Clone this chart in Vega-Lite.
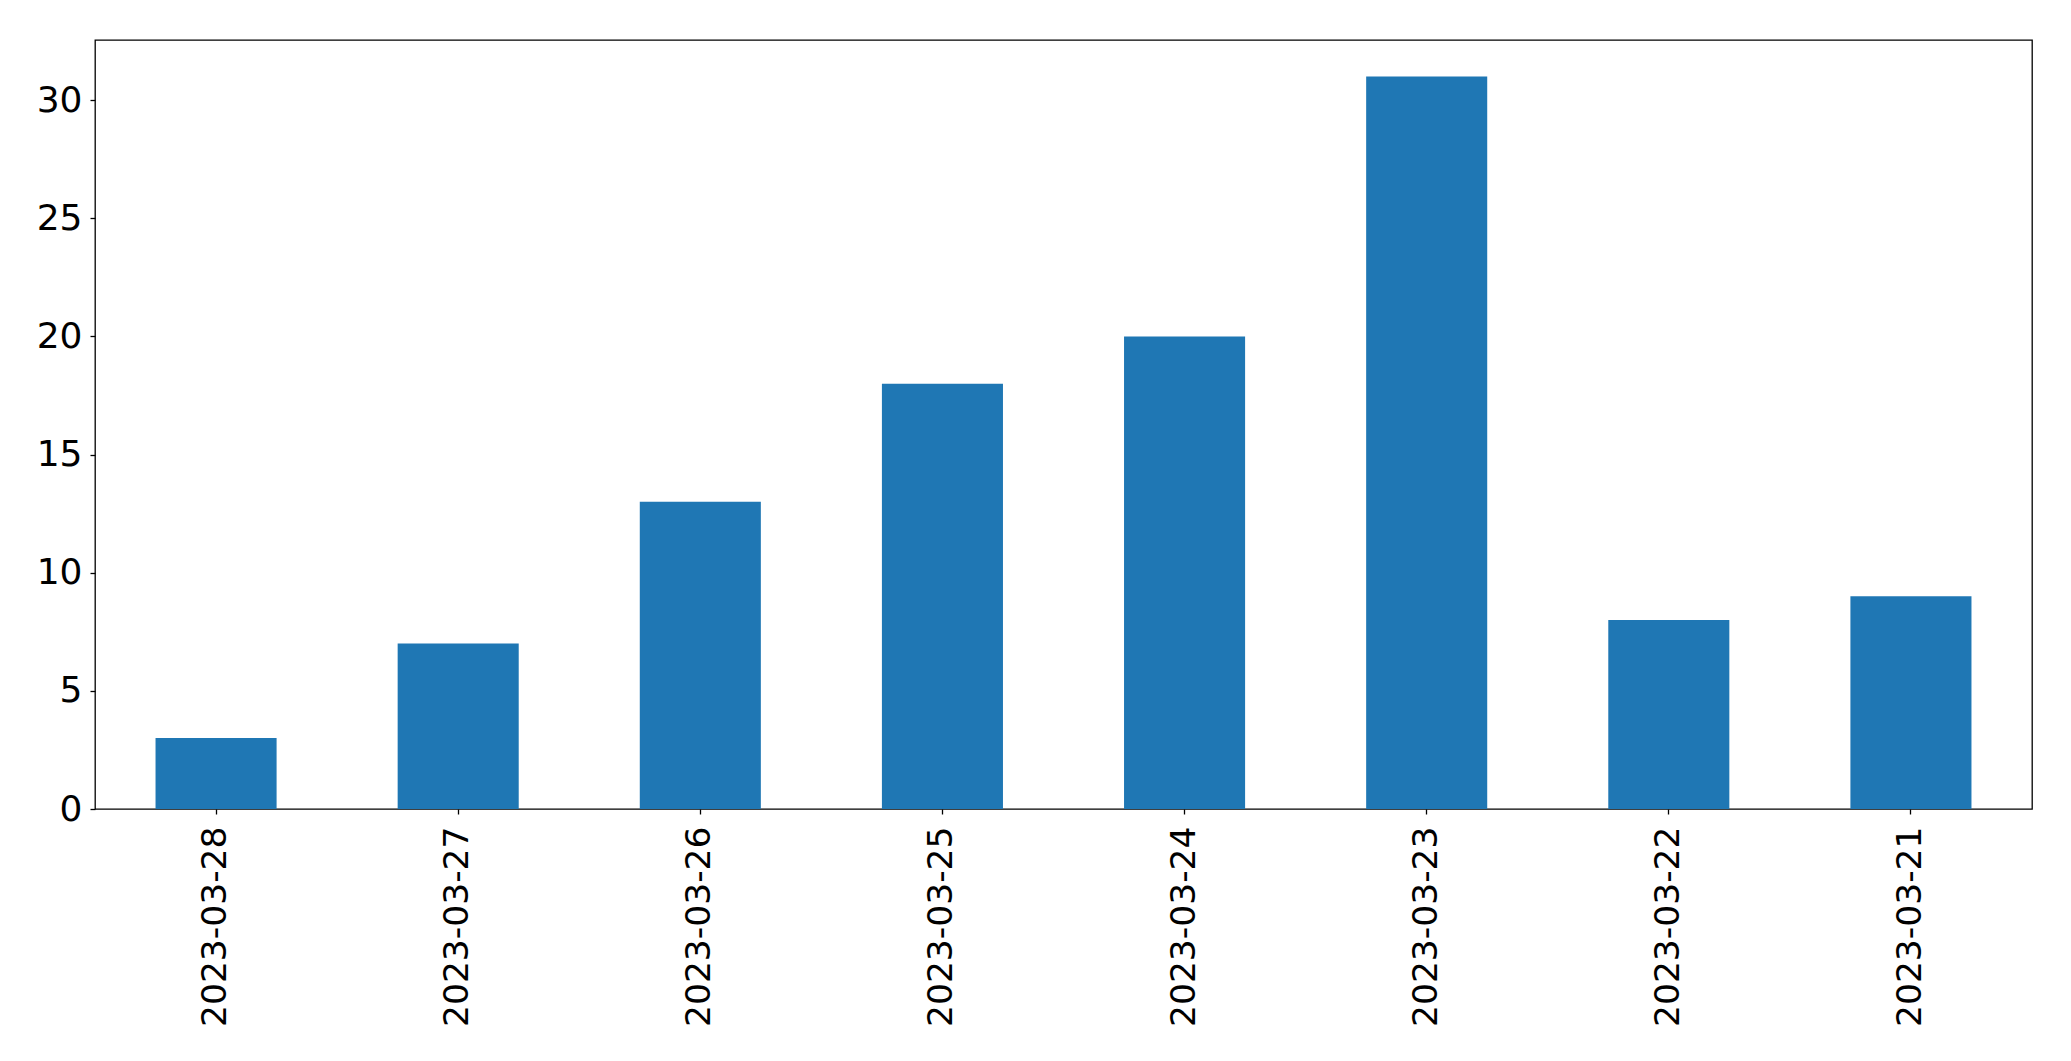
{
  "$schema": "https://vega.github.io/schema/vega-lite/v6.json",
  "autosize": {"type": "none"},
  "width": 1937,
  "height": 769,
  "padding": {"left": 95, "top": 40, "right": 39, "bottom": 252},
  "background": "white",
  "config": {
    "view": {"stroke": "black", "strokeWidth": 1.3},
    "axis": {
      "labelFont": "DejaVu Sans",
      "labelFontSize": 36,
      "labelColor": "black",
      "labelLimit": 0,
      "tickColor": "black",
      "tickWidth": 1.3,
      "tickSize": 5,
      "domain": false,
      "grid": false,
      "title": null
    }
  },
  "data": {
    "values": [
      {"date": "2023-03-28", "count": 3},
      {"date": "2023-03-27", "count": 7},
      {"date": "2023-03-26", "count": 13},
      {"date": "2023-03-25", "count": 18},
      {"date": "2023-03-24", "count": 20},
      {"date": "2023-03-23", "count": 31},
      {"date": "2023-03-22", "count": 8},
      {"date": "2023-03-21", "count": 9}
    ]
  },
  "mark": {"type": "bar", "color": "#1f77b4"},
  "encoding": {
    "x": {
      "field": "date",
      "type": "nominal",
      "sort": null,
      "scale": {"paddingInner": 0.5, "paddingOuter": 0.25},
      "axis": {"labelAngle": -90, "labelPadding": 12, "labelFontSize": 34.5, "labelAlign": "right", "labelBaseline": "middle"}
    },
    "y": {
      "field": "count",
      "type": "quantitative",
      "scale": {"domain": [0, 32.55], "nice": false},
      "axis": {"values": [0, 5, 10, 15, 20, 25, 30], "labelPadding": 8}
    }
  }
}
